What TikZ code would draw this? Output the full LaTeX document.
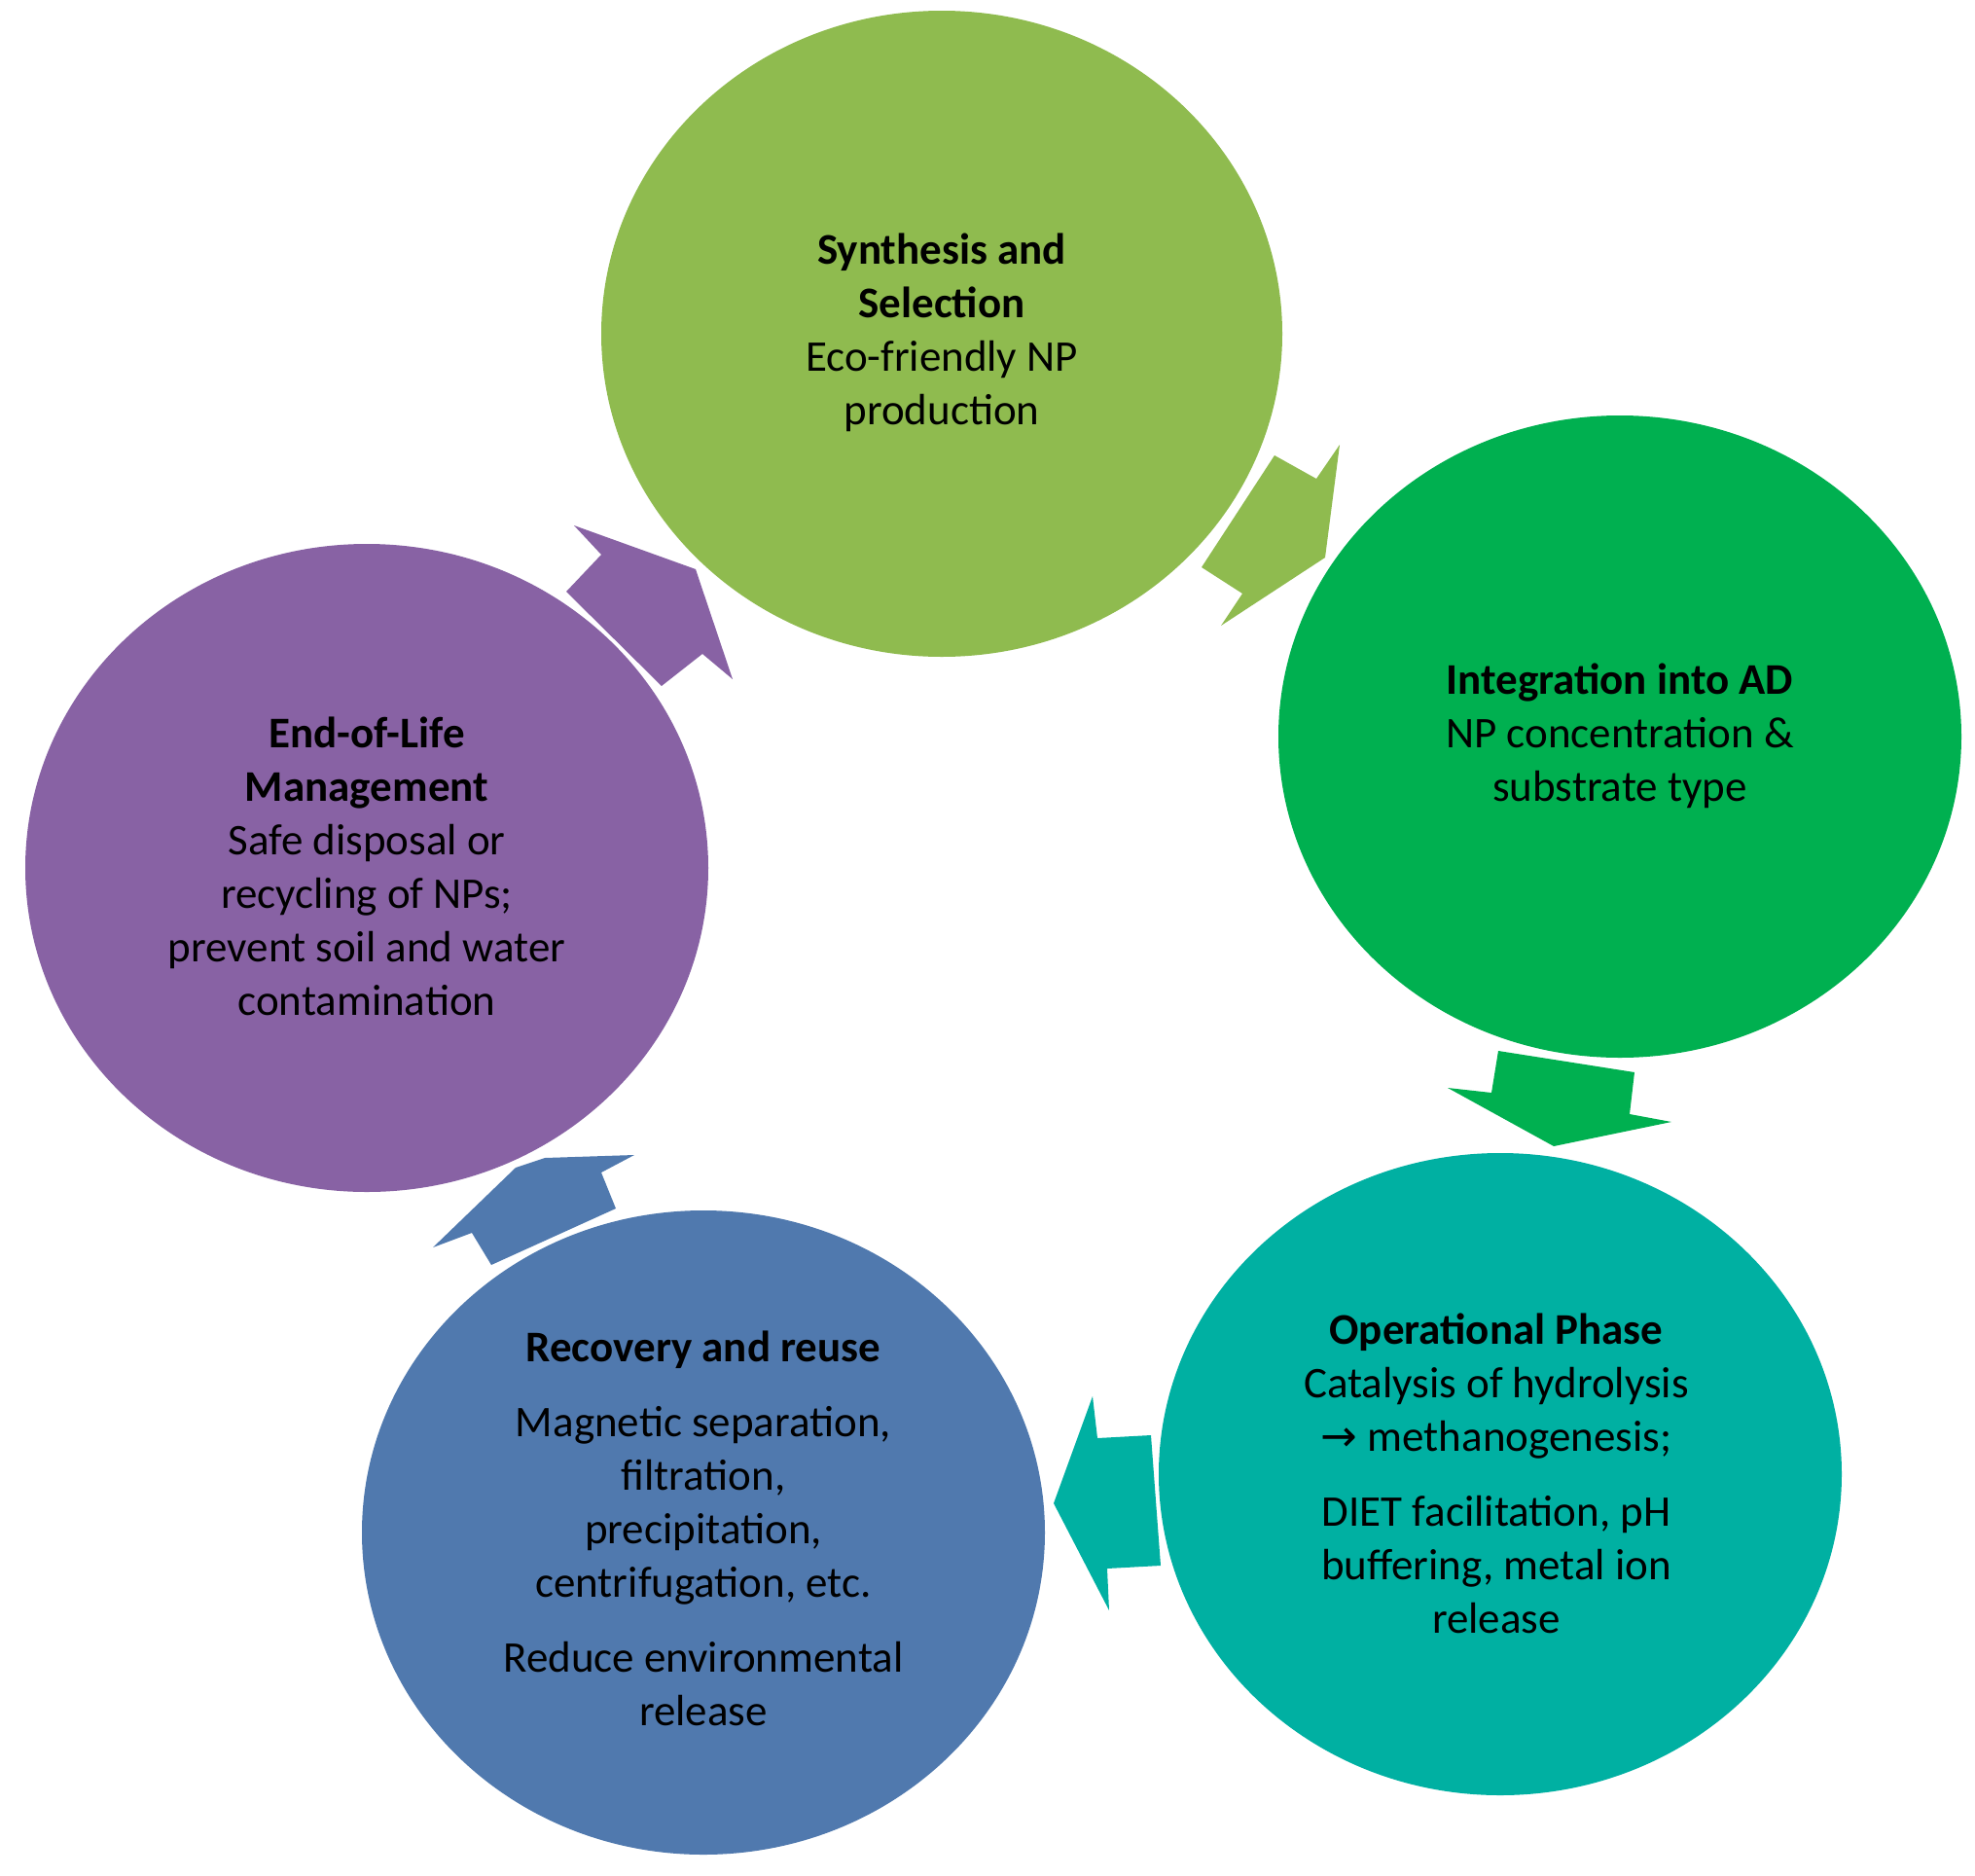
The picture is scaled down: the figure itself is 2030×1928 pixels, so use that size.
\documentclass[tikz,border=0pt]{standalone}
\usepackage{fontspec}
\setmainfont{Carlito}
\newfontfamily\symf{DejaVu Sans}
\definecolor{cA}{HTML}{8FBB4F}
\definecolor{cB}{HTML}{00B050}
\definecolor{cC}{HTML}{00B0A2}
\definecolor{cD}{HTML}{5079AE}
\definecolor{cE}{HTML}{8862A4}
\tikzset{txt/.style={align=center,font=\fontsize{22.5}{27.5}\selectfont,text=black}}
\begin{document}
\begin{tikzpicture}[x=0.5pt,y=-0.5pt]
\useasboundingbox (0,0) rectangle (2030,1928);
% circles
\fill[cA] (968,343) ellipse [x radius=350,y radius=332];
\fill[cB] (1665,757) ellipse [x radius=351,y radius=330];
\fill[cC] (1542,1515) ellipse [x radius=351,y radius=330];
\fill[cD] (723,1575) ellipse [x radius=351,y radius=331];
\fill[cE] (377,892) ellipse [x radius=351,y radius=333];
% block arrows
\fill[cA] (1310,468)--(1353,492)--(1377,457)--(1362,573)--(1255,643)--(1277,610)--(1235,583)--cycle;
\fill[cB] (1540,1080)--(1680,1102)--(1675,1145)--(1718,1153)--(1597,1178)--(1488,1118)--(1533,1123)--cycle;
\fill[cC] (1123,1435)--(1128,1478)--(1183,1475)--(1193,1609)--(1138,1612)--(1140,1655)--(1083,1545)--cycle;
\fill[cD] (505,1300)--(485,1267)--(445,1282)--(530,1200)--(560,1190)--(652,1187)--(618,1205)--(633,1242)--cycle;
\fill[cE] (590,540)--(618,570)--(582,608)--(680,705)--(722,672)--(753,698)--(715,585)--cycle;
% texts
\node[txt] (t1) at (968,342) {\textbf{Synthesis and}\\\textbf{Selection}\\Eco-friendly NP\\production};
\node[txt] (t2) at (1665,756) {\textbf{Integration into AD}\\NP concentration \&\\substrate type};
\node[txt] (t3) at (1538,1514) {\textbf{Operational Phase}\\Catalysis of hydrolysis\\{\symf →} methanogenesis;\\[11pt]DIET facilitation, pH\\buffering, metal ion\\release};
\node[txt] (t4) at (723,1571) {\textbf{Recovery and reuse}\\[11pt]Magnetic separation,\\filtration,\\precipitation,\\centrifugation, etc.\\[11pt]Reduce environmental\\release};
\node[txt] (t5) at (377,890) {\textbf{End-of-Life}\\\textbf{Management}\\Safe disposal or\\recycling of NPs;\\prevent soil and water\\contamination};
\end{tikzpicture}
\end{document}
